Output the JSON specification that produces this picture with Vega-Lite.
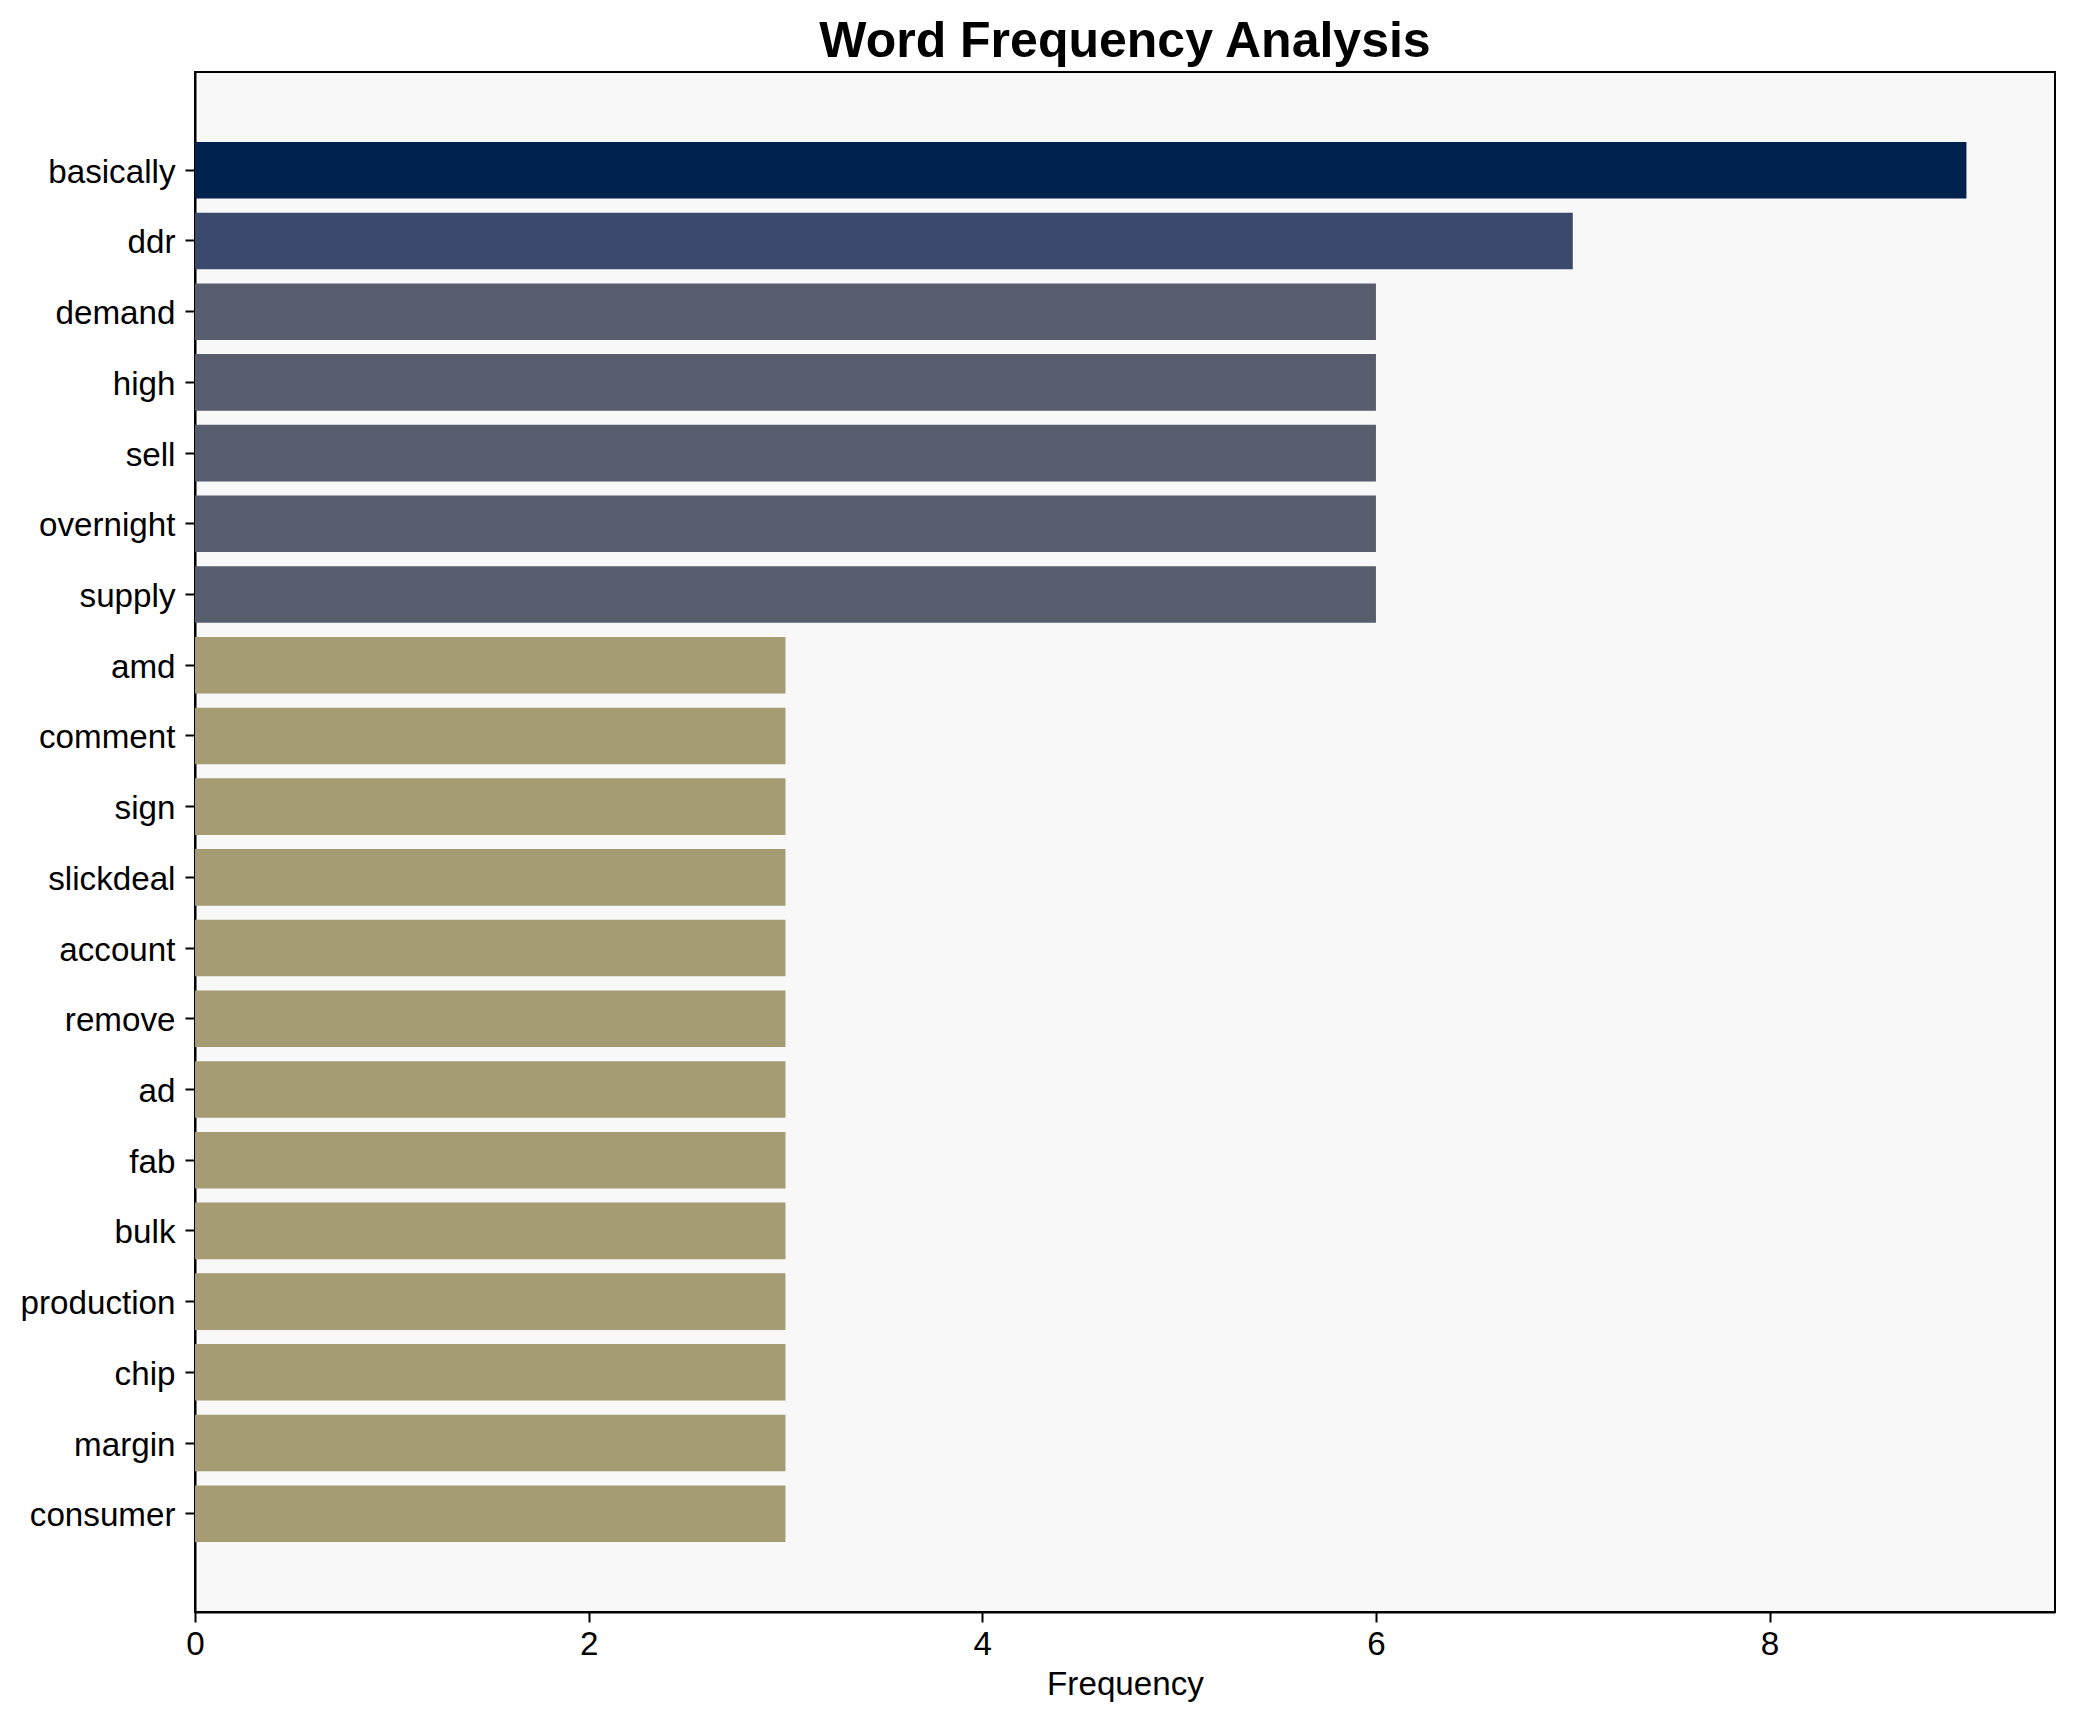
{
  "$schema": "https://vega.github.io/schema/vega-lite/v6.json",
  "autosize": {"type": "none"},
  "padding": {"left": 195, "top": 72, "right": 20, "bottom": 110},
  "width": 1860,
  "height": 1540,
  "background": "white",
  "title": {
    "text": "Word Frequency Analysis",
    "font": "Liberation Sans",
    "fontSize": 50,
    "fontWeight": "bold",
    "color": "black",
    "anchor": "middle",
    "offset": 5
  },
  "config": {
    "view": {"stroke": "black", "strokeWidth": 2, "fill": "#f8f8f8"},
    "axis": {
      "labelFont": "Liberation Sans",
      "labelFontSize": 33.2,
      "labelColor": "black",
      "titleFont": "Liberation Sans",
      "titleFontSize": 33.2,
      "titleFontWeight": "normal",
      "titleColor": "black",
      "domainColor": "black",
      "domainWidth": 2,
      "tickColor": "black",
      "tickWidth": 2,
      "tickSize": 10,
      "grid": false
    }
  },
  "data": {
    "values": [
      {"word": "basically", "frequency": 9},
      {"word": "ddr", "frequency": 7},
      {"word": "demand", "frequency": 6},
      {"word": "high", "frequency": 6},
      {"word": "sell", "frequency": 6},
      {"word": "overnight", "frequency": 6},
      {"word": "supply", "frequency": 6},
      {"word": "amd", "frequency": 3},
      {"word": "comment", "frequency": 3},
      {"word": "sign", "frequency": 3},
      {"word": "slickdeal", "frequency": 3},
      {"word": "account", "frequency": 3},
      {"word": "remove", "frequency": 3},
      {"word": "ad", "frequency": 3},
      {"word": "fab", "frequency": 3},
      {"word": "bulk", "frequency": 3},
      {"word": "production", "frequency": 3},
      {"word": "chip", "frequency": 3},
      {"word": "margin", "frequency": 3},
      {"word": "consumer", "frequency": 3}
    ]
  },
  "mark": {"type": "bar"},
  "encoding": {
    "y": {
      "field": "word",
      "type": "nominal",
      "sort": null,
      "scale": {"paddingInner": 0.2, "paddingOuter": 0.99},
      "axis": {"title": null, "labelPadding": 10, "labelOffset": 2.5}
    },
    "x": {
      "field": "frequency",
      "type": "quantitative",
      "scale": {"domain": [0, 9.45], "nice": false, "zero": true},
      "axis": {"title": "Frequency", "values": [0, 2, 4, 6, 8], "labelPadding": 6, "titlePadding": 8, "labelFlush": false}
    },
    "color": {
      "field": "frequency",
      "type": "ordinal",
      "scale": {"domain": [9, 7, 6, 3], "range": ["#00224e", "#3b496c", "#575d6d", "#a59c74"]},
      "legend": null
    }
  }
}
